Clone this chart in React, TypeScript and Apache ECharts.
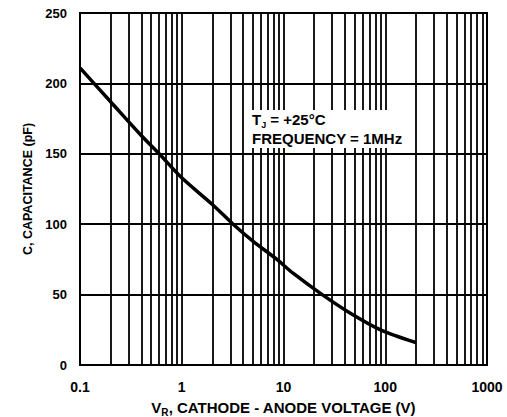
import React, { useEffect, useRef } from "react";
import * as echarts from "echarts";

const voltage = [0.1, 0.2, 0.4, 0.6, 1, 2, 3.2, 5, 8.6, 12.5, 24, 45, 90, 200];
const capacitance = [211, 187, 163, 150, 133, 114, 100, 88, 75, 65, 50, 37, 25, 16];
const decades = [0.1, 1, 10, 100];
const multipliers = [1, 2, 3, 4, 5, 6, 7, 8, 9];
const yTicks = [0, 50, 100, 150, 200, 250];

const FONT = "'Liberation Sans', Arial, sans-serif";

export default function App() {
  const ref = useRef<HTMLDivElement>(null);
  useEffect(() => {
    document.body.style.margin = "0";
    if (!ref.current) return;
    const chart = echarts.init(ref.current, undefined, { renderer: "svg" });
    const gridValues: number[] = [];
    decades.forEach((d) =>
      multipliers.forEach((m) => {
        const v = +(d * m).toPrecision(3);
        if (v > 0.1 && v < 1000) gridValues.push(v);
      })
    );
    chart.setOption({
      animation: false,
      backgroundColor: "#ffffff",
      grid: {
        left: 80,
        right: 20,
        top: 13,
        bottom: 52,
        show: true,
        borderColor: "#000",
        borderWidth: 2,
        containLabel: false,
        outerBoundsMode: "none",
      },
      xAxis: {
        type: "log",
        logBase: 10,
        min: 0.1,
        max: 1000,
        axisLine: { show: true, lineStyle: { color: "#000", width: 2 } },
        axisTick: { show: false },
        splitLine: { show: false },
        axisLabel: {
          margin: 15,
          color: "#000",
          fontFamily: FONT,
          fontWeight: "bold",
          fontSize: 14,
          formatter: (v: number) => String(+v.toPrecision(3)),
        },
        name: "{v|V}{sub|R}{v|, CATHODE - ANODE VOLTAGE (V)}",
        nameLocation: "middle",
        nameGap: 33,
        nameTextStyle: {
          rich: {
            v: { fontFamily: FONT, fontWeight: "bold", fontSize: 15, color: "#000", lineHeight: 19 },
            sub: { fontFamily: FONT, fontWeight: "bold", fontSize: 10, color: "#000", lineHeight: 10, verticalAlign: "bottom" },
          },
        },
      },
      yAxis: {
        type: "value",
        min: yTicks[0],
        max: yTicks[yTicks.length - 1],
        interval: 50,
        axisLine: { show: true, lineStyle: { color: "#000", width: 2 } },
        axisTick: { show: false },
        splitLine: { show: true, lineStyle: { color: "#000", width: 1.8 } },
        axisLabel: {
          margin: 13,
          color: "#000",
          fontFamily: FONT,
          fontWeight: "bold",
          fontSize: 13,
        },
        name: "C, CAPACITANCE (pF)",
        nameLocation: "middle",
        nameGap: 46,
        nameTextStyle: { fontFamily: FONT, fontWeight: "bold", fontSize: 12.5, color: "#000" },
      },
      series: [
        {
          type: "line",
          data: voltage.map((v, i) => [v, capacitance[i]]),
          smooth: 0.3,
          showSymbol: false,
          symbol: "none",
          lineStyle: { color: "#000", width: 3.5 },
          z: 5,
          markLine: {
            silent: true,
            symbol: "none",
            label: { show: false },
            lineStyle: { color: "#000", width: 1.8, type: "solid" },
            data: gridValues.map((v) => ({ xAxis: v })),
            z: 1,
          },
        },
      ],
      graphic: [
        {
          type: "text",
          left: 252,
          top: 110,
          style: {
            text: "{a|T}{s|J}{a| = +25°C}\n{a|FREQUENCY = 1MHz}",
            rich: {
              a: { fontFamily: FONT, fontWeight: "bold", fontSize: 15, fill: "#000", lineHeight: 19 },
              s: { fontFamily: FONT, fontWeight: "bold", fontSize: 9, fill: "#000", lineHeight: 9, verticalAlign: "bottom" },
            },
            backgroundColor: "#fff",
            padding: [0, 2, 0, 0],
          },
          z: 10,
        },
      ],
    });
    return () => chart.dispose();
  }, []);
  return <div ref={ref} style={{ width: 507, height: 417 }} />;
}
